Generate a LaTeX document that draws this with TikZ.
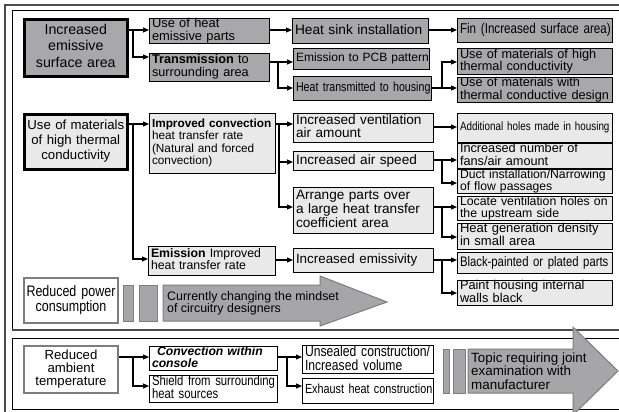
\documentclass[tikz,border=0pt]{standalone}
\usepackage{fontspec}
\setmainfont{Liberation Sans}
\newfontfamily\cnd[FakeStretch=0.82]{Liberation Sans}
\usetikzlibrary{arrows.meta}
\definecolor{dgray}{RGB}{168,168,170}
\definecolor{lgray}{RGB}{233,233,233}
\definecolor{agray}{RGB}{166,166,168}
\definecolor{bgray}{RGB}{125,125,125}
\newcommand\fs[2]{\fontsize{#1}{#2}\selectfont}
\newcommand\bx[8][l]{%
  \pgfmathsetmacro\bw{#6-#4}\pgfmathsetmacro\bh{#7-#5}\pgfmathsetmacro\tw{#6-#4-5}%
  \node[#2, anchor=north west, minimum width=\bw pt, minimum height=\bh pt, text width=\tw pt] (#3) at (#4,#5)
    {\begin{tabular}{@{}#1@{}}#8\end{tabular}};}
\tikzset{
  base/.style={draw=black, line width=1pt, inner xsep=2.5pt, inner ysep=0pt, align=left, font=\fs{12.7}{11.2}},
  dk/.style={base, fill=dgray},
  lt/.style={base, fill=lgray},
  wt/.style={base, fill=white},
  thk/.style={line width=2.6pt, align=center, font=\fs{14.2}{16}},
  gb/.style={base, draw=bgray, line width=2pt, fill=white, align=center},
  arr/.style={line width=1.1pt, -{Triangle[length=6pt,width=5pt]}},
  bigarrow/.style={draw=bgray, line width=1pt, fill=agray},
  bar/.style={draw=bgray, line width=1pt, fill=agray},
}
\begin{document}
\begin{tikzpicture}[x=1pt,y=-1pt]
\useasboundingbox (0,0) rectangle (619,412);
\fill[white] (0,0) rectangle (619,412);
% frames
\draw[line width=1.6pt, draw=black!70] (5,430) -- (5,5) -- (640,5);
\draw[line width=1pt] (640,11) -- (12,11) -- (12,330);
\draw[line width=2pt, draw=black!70] (12,330) -- (640,330);
\draw[line width=1pt] (640,338) -- (12,338) -- (12,409) -- (640,409);

% row 1
\bx[c]{dk,thk}{A1}{23}{18}{126}{75}{Increased\\emissive\\surface area}
\bx{dk,font=\fs{12.9}{10.5}}{B1}{149}{18}{269}{43}{Use of heat\\emissive parts}
\bx{dk,font=\fs{12.7}{12}}{B2}{149}{53}{269}{81}{\textbf{Transmission} to\\surrounding area}
\bx{dk,font=\fs{13.7}{12}}{C1}{292}{18}{428}{43}{Heat sink installation}
\bx{dk,font=\fs{12}{12}}{C2}{293}{48}{429}{69}{Emission to PCB pattern}
\bx{dk,font=\cnd\fs{13}{12}}{C3}{293}{76}{431}{100}{Heat transmitted to housing}
\bx{dk,font=\cnd\fs{14.2}{12}}{D1}{457}{18}{612}{42}{Fin (Increased surface area)}
\bx{dk}{D2}{457}{48}{612}{74}{Use of materials of high\\thermal conductivity}
\bx{dk}{D3}{457}{77}{612}{101}{Use of materials with\\thermal conductive design}

% row 2
\bx[c]{lt,thk,font=\fs{13.2}{15}}{A2}{23}{113}{126}{168}{Use of materials\\of high thermal\\conductivity}
\bx{lt,font=\fs{11.8}{11.7}}{B3}{149}{113}{275}{173}{\textbf{Improved convection}\\heat transfer rate\\(Natural and forced\\convection)}
\bx{lt,font=\fs{13.6}{12.7}}{C4}{293}{113}{433}{142}{Increased ventilation\\air amount}
\bx{lt,font=\fs{13.6}{12}}{C5}{293}{151}{433}{170}{Increased air speed}
\bx{lt,font=\fs{13.6}{13.3}}{C6}{293}{187}{433}{233}{Arrange parts over\\a large heat transfer\\coefficient area}
\bx{lt,font=\cnd\fs{12}{12}}{D4}{457}{113}{612}{142}{Additional holes made in housing}
\bx{lt,font=\fs{12.7}{10.7}}{D5}{457}{143}{612}{166}{Increased number of\\fans/air amount}
\bx{lt,font=\fs{12.2}{10.7}}{D6}{457}{169}{612}{193}{Duct installation/Narrowing\\of flow passages}
\bx{lt,font=\fs{12.3}{10.7}}{D7}{457}{196}{612}{220}{Locate ventilation holes on\\the upstream side}
\bx{lt,font=\fs{13}{11.5}}{D8}{457}{223}{612}{248}{Heat generation density\\in small area}
\bx{lt,font=\fs{12.3}{11.5}}{B4}{148}{246}{275}{275}{\textbf{Emission} Improved\\heat transfer rate}
\bx{lt,font=\fs{13.4}{12}}{C7}{293}{248}{433}{272}{Increased emissivity}
\bx{lt,font=\cnd\fs{13.8}{12}}{D9}{457}{252}{612}{273}{Black-painted or plated parts}
\bx{lt,font=\fs{12.8}{10.5}}{D10}{457}{280}{612}{302}{Paint housing internal\\walls black}

% row 3
\bx[c]{gb,font=\cnd\fs{15.2}{14}}{E1}{23}{277}{117}{322}{Reduced power\\consumption}
\draw[bar] (123,285) rectangle (133,321);
\draw[bar] (139,285) rectangle (157,321);
\draw[bigarrow] (163,285) -- (320,285) -- (320,276) -- (387,302) -- (320,326) -- (320,321) -- (163,321) -- cycle;
\node[anchor=west, align=left, font=\fs{12.4}{12}, inner sep=0pt] (T1) at (167,303) {Currently changing the mindset\\of circuitry designers};

% lower panel
\bx[c]{gb,font=\fs{13.2}{12}}{F1}{23}{345}{117}{392}{Reduced\\ambient\\temperature}
\bx{wt,font=\fs{12.2}{11}}{G1}{149}{346}{277}{368}{\hspace*{5pt}\textbf{\textit{Convection within}}\\\textbf{\textit{console}}}
\bx{wt,font=\cnd\fs{13.8}{11}}{G2}{149}{375}{277}{400}{Shield from surrounding\\heat sources}
\bx{wt,font=\cnd\fs{14.8}{11.5}}{H1}{302}{345}{433}{373}{Unsealed construction/\\Increased volume}
\bx{wt,font=\cnd\fs{13.2}{12}}{H2}{302}{378}{433}{403}{Exhaust heat construction}
\draw[bar] (443,349) rectangle (449,393);
\draw[bar] (453,349) rectangle (465,393);
\draw[bigarrow] (468,349) -- (573,349) -- (573,327) -- (618,371) -- (573,415) -- (573,393) -- (468,393) -- cycle;
\node[anchor=west, align=left, font=\fs{13.4}{13.3}, inner sep=0pt] (T2) at (471,371) {Topic requiring joint\\examination with\\manufacturer};

% connectors row 1
\draw[arr] (A1.east |- 0,30) -- (B1.west |- 0,30);
\coordinate (j1) at (133,30);
\draw[arr] (j1) |- (B2.west |- 0,57);
\draw[arr] (B1.east |- 0,30) -- (C1.west |- 0,30);
\draw[arr] (C1.east |- 0,30) -- (D1.west |- 0,30);
\draw[arr] (B2.east |- 0,62) -- (C2.west |- 0,62);
\coordinate (j2) at (278,62);
\draw[arr] (j2) |- (C3.west |- 0,88);
\draw[arr] (C3.east |- 0,88) -- (D3.west |- 0,88);
\coordinate (j3) at (442,88);
\draw[arr] (j3) |- (D2.west |- 0,62);

% connectors row 2
\draw[arr] (A2.east |- 0,124) -- (B3.west |- 0,124);
\coordinate (j4) at (133,124);
\draw[arr] (j4) |- (B4.west |- 0,259);
\draw[arr] (B3.east |- 0,124) -- (C4.west |- 0,124);
\coordinate (j5) at (279,124);
\draw[arr] (j5) |- (C5.west |- 0,162);
\draw[arr] (j5) |- (C6.west |- 0,207);
\draw[arr] (C4.east |- 0,127) -- (D4.west |- 0,127);
\draw[arr] (C5.east |- 0,160) -- (D5.west |- 0,160);
\coordinate (j6) at (442,160);
\draw[arr] (j6) |- (D6.west |- 0,183);
\draw[arr] (C6.east |- 0,207) -- (D7.west |- 0,207);
\coordinate (j7) at (442,207);
\draw[arr] (j7) |- (D8.west |- 0,237);
\draw[arr] (B4.east |- 0,260) -- (C7.west |- 0,260);
\draw[arr] (C7.east |- 0,260) -- (D9.west |- 0,260);
\coordinate (j8) at (442,260);
\draw[arr] (j8) |- (D10.west |- 0,293);

% connectors lower
\draw[arr] (F1.east |- 0,357) -- (G1.west |- 0,357);
\coordinate (j9) at (133,357);
\draw[arr] (j9) |- (G2.west |- 0,386);
\draw[arr] (G1.east |- 0,357) -- (H1.west |- 0,357);
\coordinate (j10) at (287,357);
\draw[arr] (j10) |- (H2.west |- 0,386);
\end{tikzpicture}
\end{document}
